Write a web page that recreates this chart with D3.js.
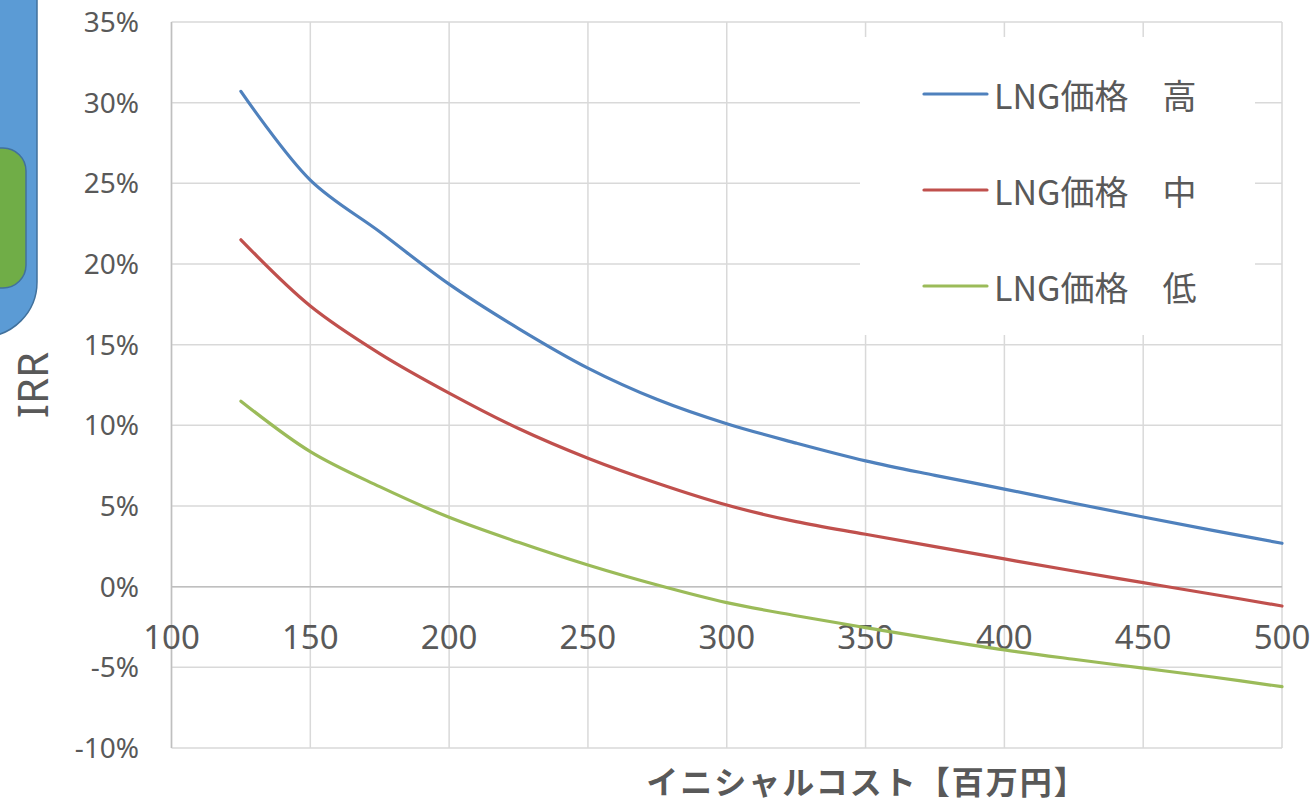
<!DOCTYPE html>
<html>
<head>
<meta charset="utf-8">
<script src="https://cdn.jsdelivr.net/npm/d3@7"></script>
<style>
  html, body { margin: 0; padding: 0; background: #fff; }
  svg { display: block; }
</style>
</head>
<body>
<svg id="chart" width="1316" height="805"></svg>
<script>
const costs = [125, 150, 175, 200, 225, 250, 275, 300, 325, 350, 375, 400, 425, 450, 475, 500];
const irrHigh = [30.7, 25.2, 22.0, 18.75, 16.0, 13.55, 11.6, 10.1, 8.9, 7.8, 6.9, 6.05, 5.17, 4.32, 3.49, 2.69];
const irrMid  = [21.5, 17.4, 14.45, 12.0, 9.8, 7.96, 6.41, 5.06, 4.03, 3.25, 2.48, 1.72, 0.97, 0.25, -0.47, -1.2];
const irrLow  = [11.5, 8.37, 6.2, 4.3, 2.75, 1.34, 0.1, -0.99, -1.8, -2.54, -3.25, -3.92, -4.5, -5.05, -5.6, -6.2];
const seriesNames = ["LNG価格　高", "LNG価格　中", "LNG価格　低"];
const seriesColors = ["#4F81BD", "#C0504D", "#9BBB59"];
const xTicks = [100, 150, 200, 250, 300, 350, 400, 450, 500];
const yTicks = [-10, -5, 0, 5, 10, 15, 20, 25, 30, 35];
const xTitle = "イニシャルコスト【百万円】";
const yTitle = "IRR";

const svg = d3.select("#chart");
const plot = { left: 171.5, right: 1282, top: 22, bottom: 748 };
const x = d3.scaleLinear().domain([100, 500]).range([plot.left, plot.right]);
const y = d3.scaleLinear().domain([-10, 35]).range([plot.bottom, plot.top]);

const latin = "'Noto Sans', 'Noto Sans CJK JP', sans-serif";
const cjk = "'Noto Sans CJK JP', 'Noto Sans', sans-serif";

// decorative shapes at the left edge
svg.append("rect").attr("x", -100).attr("y", -100).attr("width", 137).attr("height", 437)
  .attr("rx", 55).attr("fill", "#5B9BD5").attr("stroke", "#41719C").attr("stroke-width", 1.5);
svg.append("rect").attr("x", -60).attr("y", 148).attr("width", 86).attr("height", 140)
  .attr("rx", 23).attr("fill", "#70AD47").attr("stroke", "#41719C").attr("stroke-width", 1.5);

// gridlines
const grid = svg.append("g");
grid.selectAll("line.h").data(yTicks).join("line")
  .attr("x1", plot.left).attr("x2", plot.right)
  .attr("y1", d => y(d)).attr("y2", d => y(d))
  .attr("stroke", "#D9D9D9").attr("stroke-width", 1.5);
grid.selectAll("line.v").data(xTicks).join("line")
  .attr("y1", plot.top).attr("y2", plot.bottom)
  .attr("x1", d => x(d)).attr("x2", d => x(d))
  .attr("stroke", "#D9D9D9").attr("stroke-width", 1.5);

// axis lines
svg.append("line").attr("x1", x(100)).attr("x2", x(100)).attr("y1", plot.top).attr("y2", plot.bottom)
  .attr("stroke", "#BFBFBF").attr("stroke-width", 1.5);
svg.append("line").attr("x1", plot.left).attr("x2", plot.right).attr("y1", y(0)).attr("y2", y(0))
  .attr("stroke", "#BFBFBF").attr("stroke-width", 1.5);

// y tick labels
svg.append("g").selectAll("text").data(yTicks).join("text")
  .attr("x", 139).attr("y", d => y(d) + 10)
  .attr("text-anchor", "end").attr("font-family", latin).attr("font-size", 28)
  .attr("fill", "#595959").text(d => d + "%");

// x tick labels (next to the 0 axis)
svg.append("g").selectAll("text").data(xTicks).join("text")
  .attr("x", d => x(d)).attr("y", y(0) + 62)
  .attr("text-anchor", "middle").attr("font-family", latin).attr("font-size", 33)
  .attr("fill", "#595959").text(d => d);

// legend background
svg.append("rect").attr("x", 860).attr("y", 37).attr("width", 395).attr("height", 298).attr("fill", "#fff");

// lines
const allSeries = [irrHigh, irrMid, irrLow];
const line = d3.line().x((d, i) => x(costs[i])).y(d => y(d)).curve(d3.curveCatmullRom.alpha(0.5));
svg.append("g").selectAll("path").data(allSeries).join("path")
  .attr("d", d => line(d)).attr("fill", "none")
  .attr("stroke", (d, i) => seriesColors[i]).attr("stroke-width", 3.2).attr("stroke-linecap", "round");

// legend
const legendY = [94, 190, 286];
const lg = svg.append("g");
seriesNames.forEach((name, i) => {
  lg.append("line").attr("x1", 924).attr("x2", 987).attr("y1", legendY[i]).attr("y2", legendY[i])
    .attr("stroke", seriesColors[i]).attr("stroke-width", 3.2).attr("stroke-linecap", "round");
  lg.append("text").attr("x", 994).attr("y", legendY[i]).attr("dominant-baseline", "central")
    .attr("font-family", cjk).attr("font-size", 34).attr("fill", "#595959").text(name);
});

// axis titles
svg.append("text").attr("x", 867).attr("y", 780).attr("text-anchor", "middle")
  .attr("dominant-baseline", "central").attr("font-family", cjk).attr("font-size", 32)
  .attr("font-weight", "bold").attr("letter-spacing", 2).attr("fill", "#595959").text(xTitle);
svg.append("text").attr("transform", "translate(48,385) rotate(-90)")
  .attr("text-anchor", "middle").attr("font-family", latin).attr("font-size", 42)
  .attr("fill", "#595959").text(yTitle);
</script>
</body>
</html>
